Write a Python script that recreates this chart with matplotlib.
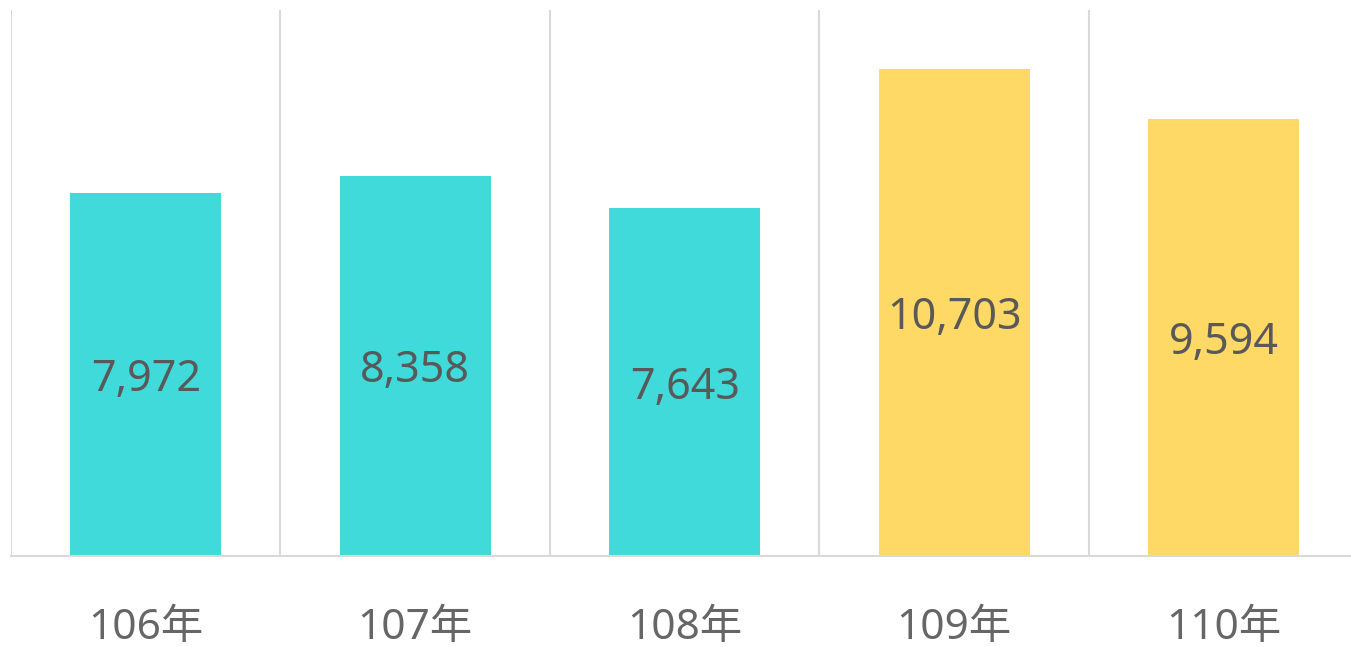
import matplotlib
matplotlib.use("Agg")
import matplotlib.pyplot as plt

plt.rcParams['font.family'] = ['Noto Sans', 'Noto Sans CJK TC', 'DejaVu Sans']

years = ["106年", "107年", "108年", "109年", "110年"]
counts = [7972, 8358, 7643, 10703, 9594]
colors = ["#41DADA", "#41DADA", "#41DADA", "#FED966", "#FED966"]

W, H = 1351, 647
fig = plt.figure(figsize=(W / 100, H / 100), dpi=100)
left = 11 / W
width = 1347.5 / W
bottom = (H - 556) / H
top = (H - 10) / H
ax = fig.add_axes([left, bottom, width, top - bottom])

x = list(range(len(years)))
ax.bar(x, counts, width=0.56, color=colors, zorder=2)
ax.set_xlim(-0.5, len(years) - 0.5)
ax.set_ylim(0, 12000)

# vertical separators between categories
for b in [i - 0.5 for i in range(len(years) + 1)]:
    ax.axvline(b, color="#D9D9D9", lw=1.5, zorder=1)

for xi, v in zip(x, counts):
    ax.text(xi, v / 2 - 120, f"{v:,}", ha="center", va="center",
            fontsize=31, color="#595959", zorder=3)

ax.set_xticks(x)
ax.set_xticklabels(years, fontsize=30.5, color="#666666")
ax.tick_params(axis="x", length=0, pad=37)
ax.set_yticks([])
for s in ["top", "right", "left"]:
    ax.spines[s].set_visible(False)
ax.spines["bottom"].set_color("#D9D9D9")
ax.spines["bottom"].set_linewidth(1.5)

fig.savefig("out.png", dpi=100)
